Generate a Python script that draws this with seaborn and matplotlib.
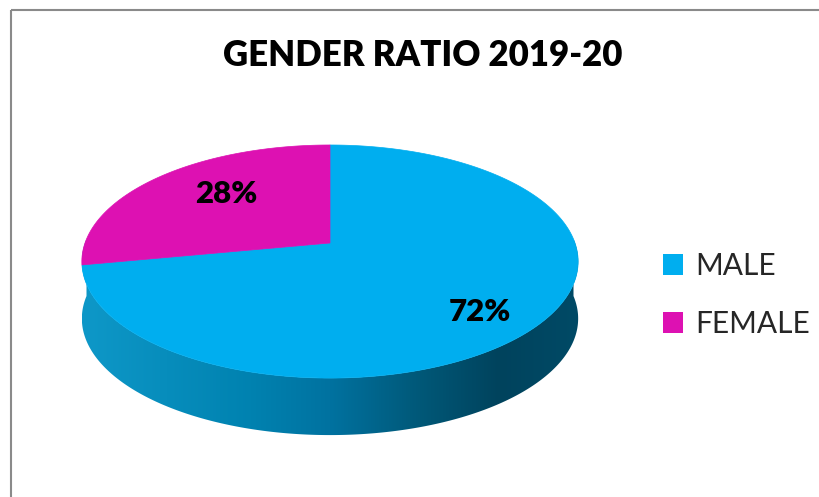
import numpy as np
import matplotlib
matplotlib.use("Agg")
import matplotlib.pyplot as plt
from matplotlib.colors import LinearSegmentedColormap
from matplotlib.patches import Rectangle, Polygon
import seaborn as sns

# data
labels = ["MALE", "FEMALE"]
shares = [72, 28]
top_colors = ["#00AEEF", "#DD11B2"]
title = "GENDER RATIO 2019-20"

sns.set_theme(style="white")
plt.rcParams['font.family'] = ['Lato', 'DejaVu Sans']

fig = plt.figure(figsize=(8.2, 4.97), dpi=100)
ax = fig.add_axes([0, 0, 1, 1])
ax.set_xlim(0, 820)
ax.set_ylim(497, 0)
ax.axis('off')

# pie geometry in pixels (perspective tilted disc)
cx, cy = 330, 243
A, B, k = 245, 113.6, -0.159
depth = 57


def proj(theta, r=1.0):
    # theta: clockwise angle from 12 o'clock, degrees
    t = np.radians(theta)
    u = r * np.sin(t)
    v = -r * np.cos(t)
    d = 1 + k * v
    return cx + A * u / d, cy + B * v / d


# side wall: one polygon filled with a left-to-right shading
side_cmap = LinearSegmentedColormap.from_list(
    "side", [(0.0, "#0E98C8"), (0.34, "#0082B0"), (0.5, "#0072A0"),
             (0.68, "#005878"), (0.84, "#00435D"), (1.0, "#004A66")])
ths = np.linspace(88, 272, 400)
tx, ty = proj(ths)
side_xy = np.c_[np.r_[tx, tx[::-1]], np.r_[ty, ty[::-1] + depth]]
side_patch = Polygon(side_xy, closed=True, fc='none', ec='none')
ax.add_patch(side_patch)
xmin, xmax = tx.min(), tx.max()
grad = np.linspace(0, 1, 512)[None, :]
im = ax.imshow(grad, cmap=side_cmap, aspect='auto',
               extent=(xmin, xmax, ty.max() + depth + 2, ty.min() - 2),
               interpolation='bilinear', zorder=1)
im.set_clip_path(side_patch)
ax.set_xlim(0, 820)
ax.set_ylim(497, 0)

total = sum(shares)
bounds = np.cumsum([0] + shares) / total * 360

# top faces
for i in range(len(shares)):
    arc = np.linspace(bounds[i], bounds[i + 1], 200)
    xs, ys = proj(arc)
    ax.fill(np.r_[cx, xs], np.r_[cy, ys], color=top_colors[i], lw=0.5,
            ec=top_colors[i], zorder=2)

# data labels
label_pos = [(480, 312), (226, 194)]
for s, (lx, ly) in zip(shares, label_pos):
    ax.text(lx, ly, f"{s}%", ha='center', va='center', fontsize=22.5,
            fontweight='heavy', color='black', zorder=3)

ax.text(423, 56, title, ha='center', va='center', fontsize=25,
        fontweight='heavy', color='black')

# legend
handles = [Rectangle((0, 0), 1, 1, fc=c, ec='none') for c in top_colors]
ax.legend(handles, labels, loc='center left', bbox_to_anchor=(648 / 820, 1 - 295 / 497),
          frameon=False, fontsize=21.5, handlelength=0.67, handleheight=0.67,
          handletextpad=0.4, labelspacing=1.0, borderpad=0)

# chart border (left and top visible)
ax.plot([11.5, 11.5], [497, 9.5], color="#8A8A8A", lw=1.5, solid_capstyle='butt')
ax.plot([11.5, 820], [9.5, 9.5], color="#8A8A8A", lw=1.5, solid_capstyle='butt')

fig.savefig("out.png", dpi=100)
